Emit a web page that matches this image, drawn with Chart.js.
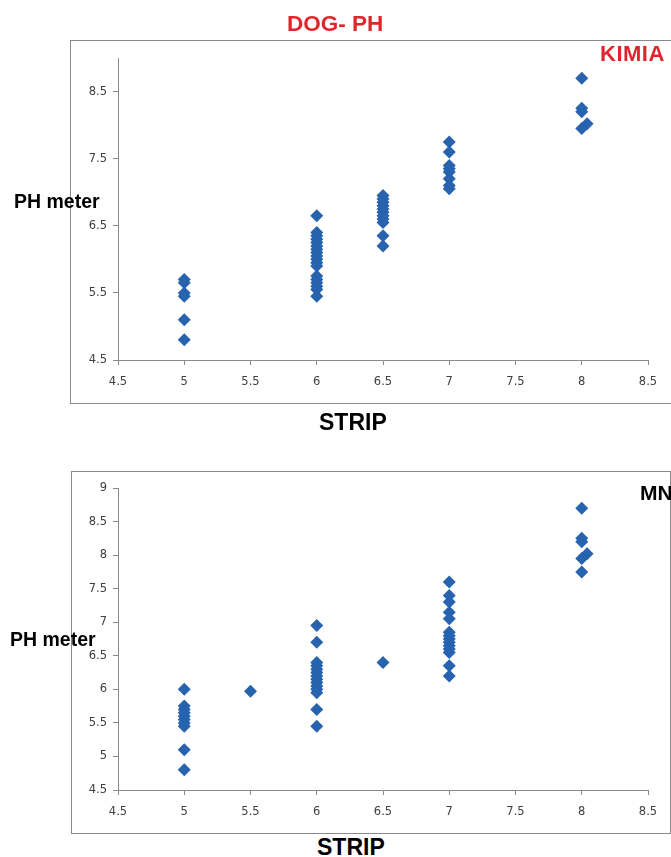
<!DOCTYPE html>
<html>
<head>
<meta charset="utf-8">
<script src="https://cdn.jsdelivr.net/npm/chart.js@4.4.0/dist/chart.umd.min.js"></script>
<style>
    body { margin: 0; background: #fff; width: 671px; height: 857px; overflow: hidden; position: relative; font-family: "Liberation Sans", Arial, sans-serif; }
    .box { position: absolute; border: 1px solid #8a8a8a; }
    .lbl { position: absolute; font-weight: bold; white-space: nowrap; line-height: 1; }
    canvas { position: absolute; left: 0; }
</style>
</head>
<body>
    <div class="box" style="left:70px; top:40px; width:620px; height:362px;"></div>
    <div class="box" style="left:71px; top:471px; width:598px; height:361px;"></div>

    <canvas id="chartKimia" style="top:0px;"></canvas>
    <canvas id="chartMn" style="top:430px;"></canvas>

    <div class="lbl" style="left:287px; top:13px; font-size:22.5px; color:#e0262c;">DOG- PH</div>
    <div class="lbl" style="left:600px; top:43px; font-size:22px; letter-spacing:0.5px; color:#e0262c;">KIMIA</div>
    <div class="lbl" style="left:14px; top:192px; font-size:19.5px; color:#000;">PH meter</div>
    <div class="lbl" style="left:319px; top:411px; font-size:23px; color:#000;">STRIP</div>

    <div class="lbl" style="left:640px; top:482px; font-size:21px; color:#000;">MN</div>
    <div class="lbl" style="left:10px; top:630px; font-size:19.5px; color:#000;">PH meter</div>
    <div class="lbl" style="left:317px; top:836px; font-size:23px; color:#000;">STRIP</div>

<script>
// tick labels
const stripTicks = [4.5, 5, 5.5, 6, 6.5, 7, 7.5, 8, 8.5];
const kimiaMeterTicks = [4.5, 5.5, 6.5, 7.5, 8.5];
const mnMeterTicks = [4.5, 5, 5.5, 6, 6.5, 7, 7.5, 8, 8.5, 9];

// KIMIA: STRIP vs PH meter
const kimiaStrip = [
    5, 5, 5, 5, 5, 5,
    6, 6, 6, 6, 6, 6, 6, 6, 6, 6, 6, 6, 6, 6, 6, 6, 6, 6,
    6.5, 6.5, 6.5, 6.5, 6.5, 6.5, 6.5, 6.5, 6.5, 6.5, 6.5,
    7, 7, 7, 7, 7, 7, 7, 7,
    8, 8, 8, 8.04, 8
];
const kimiaMeter = [
    5.7, 5.65, 5.5, 5.45, 5.1, 4.8,
    6.65, 6.4, 6.35, 6.3, 6.25, 6.2, 6.15, 6.1, 6.05, 6.0, 5.95, 5.9, 5.75, 5.7, 5.65, 5.6, 5.55, 5.45,
    6.95, 6.9, 6.85, 6.8, 6.75, 6.7, 6.65, 6.6, 6.55, 6.35, 6.2,
    7.75, 7.6, 7.4, 7.35, 7.3, 7.2, 7.1, 7.05,
    8.7, 8.25, 8.2, 8.02, 7.95
];

// MN: STRIP vs PH meter
const mnStrip = [
    5, 5, 5, 5, 5, 5, 5, 5, 5, 5,
    5.5,
    6, 6, 6, 6, 6, 6, 6, 6, 6, 6, 6, 6, 6, 6,
    6.5,
    7, 7, 7, 7, 7, 7, 7, 7, 7, 7, 7, 7, 7, 7,
    8, 8, 8, 8.04, 8, 8
];
const mnMeter = [
    6.0, 5.75, 5.7, 5.65, 5.6, 5.55, 5.5, 5.45, 5.1, 4.8,
    5.97,
    6.95, 6.7, 6.4, 6.35, 6.3, 6.25, 6.2, 6.15, 6.1, 6.05, 6.0, 5.95, 5.7, 5.45,
    6.4,
    7.6, 7.4, 7.3, 7.15, 7.05, 6.85, 6.8, 6.75, 6.7, 6.65, 6.6, 6.55, 6.35, 6.2,
    8.7, 8.25, 8.2, 8.02, 7.95, 7.75
];

const axisGray = '#8a8a8a';
const tickFont = { family: 'DejaVu Sans', size: 11.5 };

function makeScatter(id, height, xs, ys, yTicks) {
    const canvas = document.getElementById(id);
    canvas.width = 671;
    canvas.height = height;
    canvas.style.width = '671px';
    canvas.style.height = height + 'px';

    const points = xs.map((x, i) => ({ x: x, y: ys[i] }));

    return new Chart(canvas.getContext('2d'), {
        type: 'scatter',
        data: {
            datasets: [{
                data: points,
                pointStyle: 'rectRot',
                pointRadius: 6.5,
                backgroundColor: '#2763ae',
                borderColor: '#2763ae',
                borderWidth: 0
            }]
        },
        options: {
            responsive: false,
            animation: false,
            layout: { padding: { left: 78, right: 23, top: 58, bottom: height - 360 - 30 } },
            plugins: { legend: { display: false }, tooltip: { enabled: false } },
            scales: {
                x: {
                    type: 'linear',
                    min: 4.5,
                    max: 8.5,
                    afterBuildTicks: s => { s.ticks = stripTicks.map(v => ({ value: v })); },
                    afterFit: s => { s.height = 30; },
                    grid: { drawOnChartArea: false, drawTicks: true, tickLength: 5, color: axisGray },
                    border: { color: axisGray, width: 1 },
                    ticks: { color: '#404040', font: tickFont, padding: 10, maxRotation: 0, callback: v => String(v) }
                },
                y: {
                    type: 'linear',
                    min: 4.5,
                    max: 9,
                    afterBuildTicks: s => { s.ticks = yTicks.map(v => ({ value: v })); },
                    afterFit: s => { s.width = 40; },
                    grid: { drawOnChartArea: false, drawTicks: true, tickLength: 5, color: axisGray },
                    border: { color: axisGray, width: 1 },
                    ticks: { color: '#404040', font: tickFont, padding: 6, callback: v => String(v) }
                }
            }
        }
    });
}

makeScatter('chartKimia', 420, kimiaStrip, kimiaMeter, kimiaMeterTicks);
makeScatter('chartMn', 400, mnStrip, mnMeter, mnMeterTicks);
</script>
</body>
</html>
